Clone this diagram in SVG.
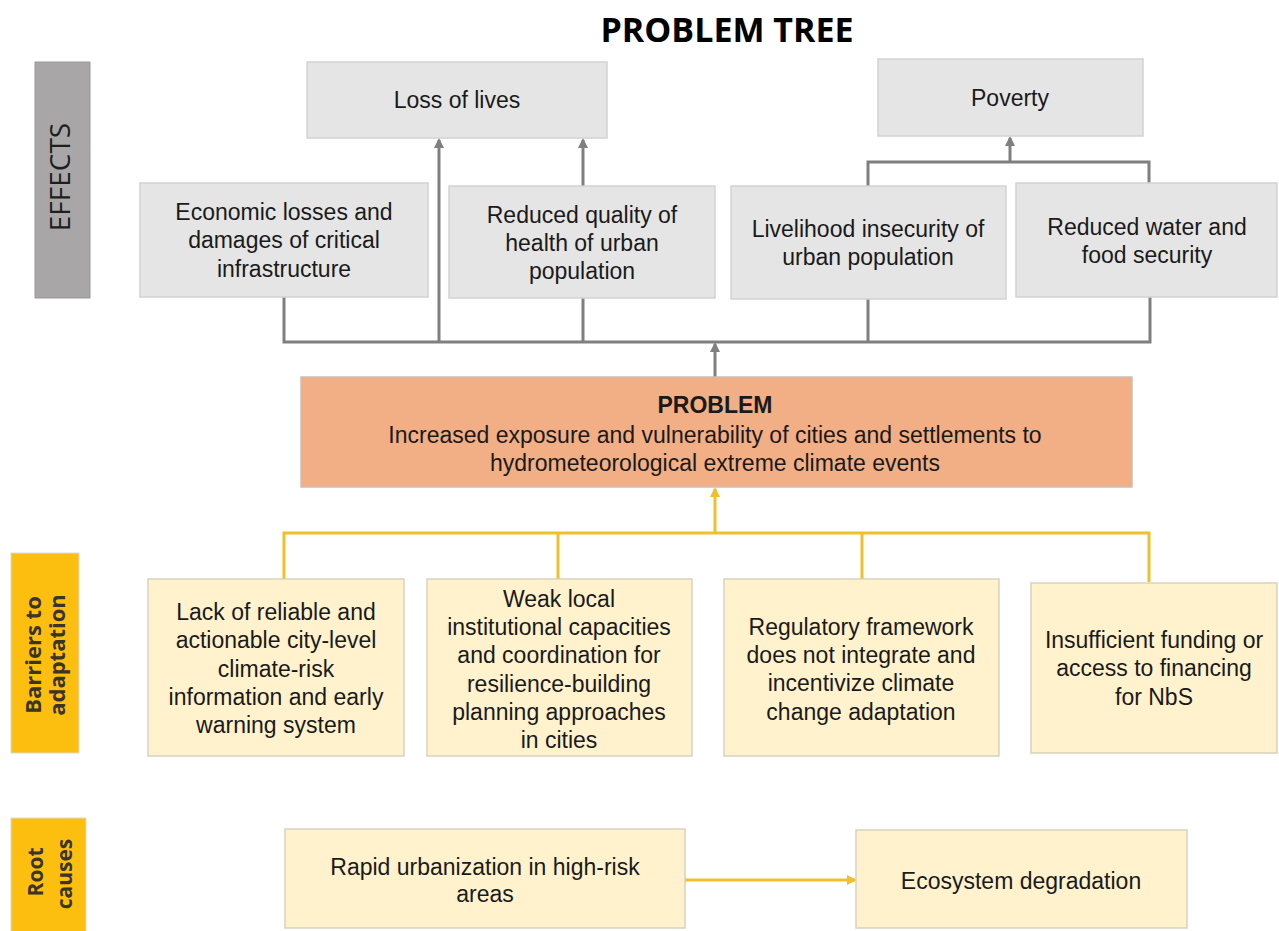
<svg xmlns="http://www.w3.org/2000/svg" width="1279" height="931" viewBox="0 0 1279 931">
<style>
.g{fill:#e5e5e5;stroke:#d2d2d2;stroke-width:1.5}
.y{fill:#fff2cc;stroke:#d9d2bd;stroke-width:1.5}
.p{fill:#f2ae84;stroke:#c9c0b8;stroke-width:1.5}
.t{font-family:"Liberation Sans",Arial,sans-serif;font-size:23px;fill:#1a1a1a;text-anchor:middle}
.tb{font-weight:bold}
.lab{font-family:"Open Sans","DejaVu Sans",sans-serif;text-anchor:middle}
.cg{fill:none;stroke:#7f7f7f;stroke-width:3}
.cy{fill:none;stroke:#efbf2c;stroke-width:3}
</style>
<defs>
<marker id="ag" markerWidth="10" markerHeight="10" refX="8" refY="5" orient="auto" markerUnits="userSpaceOnUse"><path d="M0,0 L10,5 L0,10 z" fill="#7f7f7f"/></marker>
<marker id="ay" markerWidth="10" markerHeight="10" refX="8" refY="5" orient="auto" markerUnits="userSpaceOnUse"><path d="M0,0 L10,5 L0,10 z" fill="#efbf2c"/></marker>
</defs>
<rect width="1279" height="931" fill="#ffffff"/>
<text x="727" y="42" class="lab" style="font-size:34px;font-weight:bold;fill:#000">PROBLEM TREE</text>

<g id="label-effects">
<rect x="35" y="62" width="55" height="236" fill="#a8a6a7" stroke="#999" stroke-width="1"/>
<text transform="translate(70,177) rotate(-90)" class="lab" style="font-size:28px;fill:#1e1e1e">EFFECTS</text>
</g>
<g id="label-barriers">
<rect x="11" y="553" width="68" height="200" fill="#fdbf0f" stroke="#d9d9d9" stroke-width="1"/>
<text transform="translate(41,655) rotate(-90)" class="lab" style="font-size:22px;font-weight:bold;fill:#3a3526">Barriers to</text>
<text transform="translate(65,655) rotate(-90)" class="lab" style="font-size:22px;font-weight:bold;fill:#3a3526">adaptation</text>
</g>
<g id="label-root">
<rect x="11" y="818" width="75" height="115" fill="#fdbf0f" stroke="#d9d9d9" stroke-width="1"/>
<text transform="translate(43,872) rotate(-90)" class="lab" style="font-size:21px;font-weight:bold;fill:#3a3526">Root</text>
<text transform="translate(72,874) rotate(-90)" class="lab" style="font-size:21px;font-weight:bold;fill:#3a3526">causes</text>
</g>

<g id="connectors">
<path class="cg" d="M284,297 V342 H1150 V297"/>
<path class="cg" d="M868,299 V342"/>
<path class="cg" d="M583,298 V342"/>
<path class="cg" d="M439,342 V140" marker-end="url(#ag)"/>
<path class="cg" d="M583,186 V140" marker-end="url(#ag)"/>
<path class="cg" d="M715,377 V344" marker-end="url(#ag)"/>
<path class="cg" d="M868,186 V162 H1149 V183"/>
<path class="cg" d="M1010,162 V138" marker-end="url(#ag)"/>
<path class="cy" d="M284,580 V533 H1149 V582"/>
<path class="cy" d="M558,579 V533"/>
<path class="cy" d="M862,579 V533"/>
<path class="cy" d="M715,533 V489" marker-end="url(#ay)"/>
<path class="cy" d="M685,880 H855" marker-end="url(#ay)"/>
</g>

<g id="loss-of-lives">
<rect class="g" x="307" y="62" width="300" height="76"/>
<text class="t" x="457" y="108">Loss of lives</text>
</g>
<g id="poverty">
<rect class="g" x="878" y="59" width="265" height="77"/>
<text class="t" x="1010" y="106">Poverty</text>
</g>
<g id="economic-losses">
<rect class="g" x="140" y="183" width="288" height="114"/>
<text class="t" x="284" y="220">Economic losses and</text>
<text class="t" x="284" y="248">damages of critical</text>
<text class="t" x="284" y="277">infrastructure</text>
</g>
<g id="reduced-health">
<rect class="g" x="449" y="186" width="266" height="112"/>
<text class="t" x="582" y="223">Reduced quality of</text>
<text class="t" x="582" y="251">health of urban</text>
<text class="t" x="582" y="279">population</text>
</g>
<g id="livelihood">
<rect class="g" x="731" y="186" width="275" height="113"/>
<text class="t" x="868" y="237">Livelihood insecurity of</text>
<text class="t" x="868" y="265">urban population</text>
</g>
<g id="water-food">
<rect class="g" x="1016" y="183" width="261" height="114"/>
<text class="t" x="1147" y="235">Reduced water and</text>
<text class="t" x="1147" y="263">food security</text>
</g>

<g id="problem">
<rect class="p" x="301" y="377" width="831" height="110"/>
<text class="t tb" x="715" y="413">PROBLEM</text>
<text class="t" x="715" y="443">Increased exposure and vulnerability of cities and settlements to</text>
<text class="t" x="715" y="471">hydrometeorological extreme climate events</text>
</g>

<g id="barrier-info">
<rect class="y" x="148" y="579" width="256" height="177"/>
<text class="t" x="276" y="620">Lack of reliable and</text>
<text class="t" x="276" y="648">actionable city-level</text>
<text class="t" x="276" y="677">climate-risk</text>
<text class="t" x="276" y="705">information and early</text>
<text class="t" x="276" y="733">warning system</text>
</g>
<g id="barrier-capacity">
<rect class="y" x="427" y="579" width="265" height="177"/>
<text class="t" x="559" y="607">Weak local</text>
<text class="t" x="559" y="635">institutional capacities</text>
<text class="t" x="559" y="663">and coordination for</text>
<text class="t" x="559" y="692">resilience-building</text>
<text class="t" x="559" y="720">planning approaches</text>
<text class="t" x="559" y="748">in cities</text>
</g>
<g id="barrier-regulatory">
<rect class="y" x="724" y="579" width="275" height="177"/>
<text class="t" x="861" y="635">Regulatory framework</text>
<text class="t" x="861" y="663">does not integrate and</text>
<text class="t" x="861" y="691">incentivize climate</text>
<text class="t" x="861" y="720">change adaptation</text>
</g>
<g id="barrier-funding">
<rect class="y" x="1031" y="583" width="246" height="170"/>
<text class="t" x="1154" y="648">Insufficient funding or</text>
<text class="t" x="1154" y="676">access to financing</text>
<text class="t" x="1154" y="705">for NbS</text>
</g>

<g id="rapid-urbanization">
<rect class="y" x="285" y="829" width="400" height="99"/>
<text class="t" x="485" y="875">Rapid urbanization in high-risk</text>
<text class="t" x="485" y="902">areas</text>
</g>
<g id="ecosystem-degradation">
<rect class="y" x="856" y="830" width="331" height="98"/>
<text class="t" x="1021" y="889">Ecosystem degradation</text>
</g>
</svg>
